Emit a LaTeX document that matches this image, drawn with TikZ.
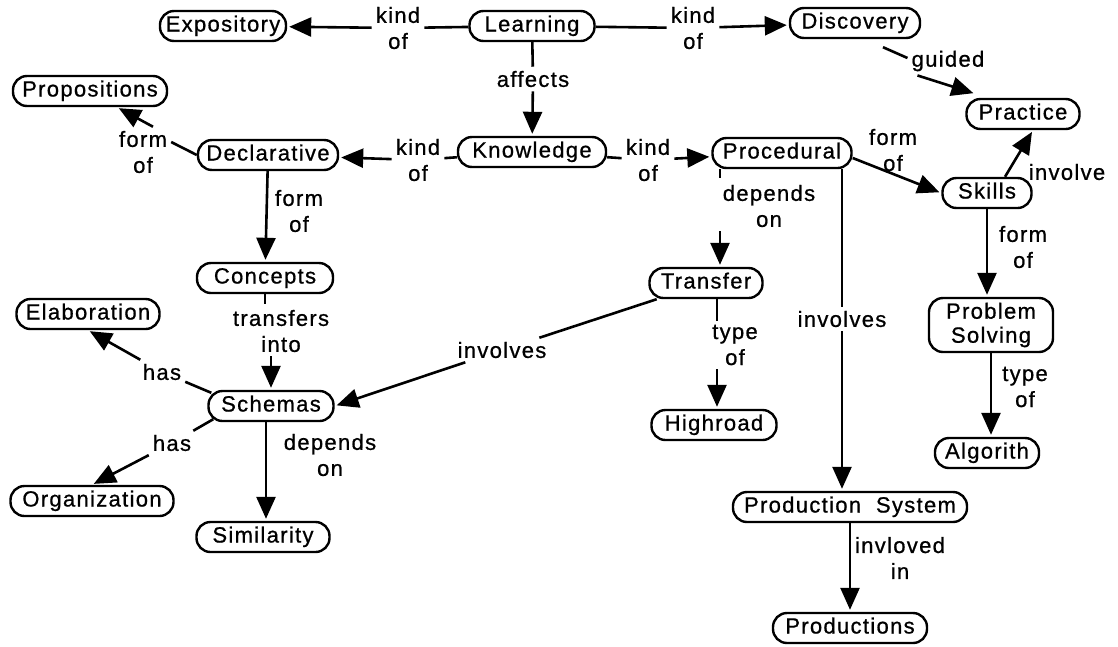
\documentclass[tikz,border=0pt]{standalone}
\usepackage{fontspec}
\setmainfont{Liberation Sans}[LetterSpace=6,FakeBold=0.8]
\usetikzlibrary{arrows.meta}
\begin{document}
\begin{tikzpicture}[x=1pt,y=-1pt,
  every node/.style={font=\fontsize{22}{26}\selectfont},
  box/.style={draw, line width=2.4pt, rounded corners=14pt, inner xsep=3pt, inner ysep=4.5pt, minimum height=30pt},
  concept/.style={box, text height=16pt, text depth=5pt},
  link/.style={align=center, inner sep=4pt},
  conn/.style={line width=2.6pt},
  arr/.style={conn, shorten >=2pt, -{Triangle[length=22pt,width=19pt]}}]

% canvas
\fill[white] (0,0) rectangle (1118,646);
\useasboundingbox (0,0) rectangle (1118,646);

% concepts
\node[concept, minimum width=126pt] (exp)    at (223,26)  {Expository};
\node[concept, minimum width=125pt] (learn)  at (532,26)  {Learning};
\node[concept, minimum width=130pt] (disc)   at (855,23)  {Discovery};
\node[concept, minimum width=154pt] (prop)   at (90,91)   {Propositions};
\node[concept, minimum width=113pt] (prac)   at (1023,114){Practice};
\node[concept, minimum width=140pt] (decl)   at (268,155) {Declarative};
\node[concept, minimum width=148pt] (know)   at (532,152) {Knowledge};
\node[concept, minimum width=139pt] (proc)   at (782,153) {Procedural};
\node[concept, minimum width=89pt]  (skills) at (987,193) {Skills};
\node[concept, minimum width=136pt] (conc)   at (265,278) {Concepts};
\node[concept, minimum width=113pt] (trans)  at (706,283) {Transfer};
\node[concept, minimum width=143pt] (elab)   at (88,314)  {Elaboration};
\node[box, align=center, minimum width=124pt, minimum height=54pt, inner ysep=2pt] (ps) at (991,325) {Problem\\[-2pt]Solving};
\node[concept, minimum width=125pt] (schem)  at (271,406) {Schemas};
\node[concept, minimum width=125pt] (high)   at (714,425) {Highroad};
\node[concept, minimum width=104pt] (alg)    at (987,453) {Algorith};
\node[concept, minimum width=163pt] (org)    at (92,501)  {Organization};
\node[concept, minimum width=133pt] (sim)    at (263,537) {Similarity};
\node[concept, minimum width=234pt] (prods)  at (850,507) {Production\ \ System};
\node[concept, minimum width=154pt] (prodn)  at (850,628) {Productions};

% link phrases
\node[link] (l1)  at (398,28)  {kind\\of};
\node[link] (l2)  at (693,28)  {kind\\of};
\node[link] (l3)  at (533,79)  {affects};
\node[link] (l4)  at (948,61)  {guided};
\node[link] (l5)  at (143,152) {form\\of};
\node[link] (l6)  at (418,160) {kind\\of};
\node[link] (l7)  at (648,160) {kind\\of};
\node[link] (l8)  at (893,150) {form\\of};
\node[link] (l9)  at (1067,172){involve};
\node[link] (l10) at (299,211) {form\\of};
\node[link] (l11) at (769,206) {depends\\on};
\node[link] (l12) at (1023,247){form\\of};
\node[link] (l13) at (281,331) {transfers\\into};
\node[link] (l14) at (502,350) {involves};
\node[link] (l15) at (735,345) {type\\of};
\node[link] (l16) at (842,319) {involves};
\node[link] (l17) at (162,372) {has};
\node[link] (l18) at (172,443) {has};
\node[link] (l19) at (330,455) {depends\\on};
\node[link] (l20) at (1025,387){type\\of};
\node[link] (l21) at (900,558) {invloved\\in};

% rails for vertical connectors running beside their phrases
\coordinate (r11) at ([xshift=14pt]trans.north);
\coordinate (r15) at ([xshift=3pt]high.north);
\coordinate (r19) at ([xshift=3pt]sim.north);

% Learning
\draw[conn] (learn) -- (l1);
\draw[arr]  (l1) -- (exp);
\draw[conn] (learn) -- (l2);
\draw[arr]  (l2) -- (disc);
\draw[conn] (learn) -- (l3);
\draw[arr]  (l3) -- (know);

% Discovery -> Practice
\draw[conn] ([xshift=28pt,yshift=-8pt]disc.south) -- ([yshift=3pt]l4.west);
\draw[arr]  ([xshift=10pt]l4.south west) -- ([xshift=10pt,yshift=4pt]prac.north west);

% Knowledge
\draw[conn] (know) -- (l6);
\draw[arr]  (l6) -- (decl);
\draw[conn] (know) -- (l7);
\draw[arr]  (l7) -- (proc);

% Declarative
\draw[conn] (decl.west) -- ([yshift=10pt]l5.east);
\draw[arr]  ([xshift=10pt]l5.north) -- ([xshift=27pt]prop.south);
\draw[arr]  (decl) -- (conc);

% Procedural
\draw[arr]  ([yshift=-5pt]proc.east) -- (skills.west);
\draw[conn] (r11 |- proc.south) -- ++(0,9);
\draw[arr]  (r11 |- l11.south) -- (r11);
\draw[conn] (l16.north |- proc.south) -- (l16.north);
\draw[arr]  (l16.south) -- (l16.south |- prods.north);

% Skills
\draw[arr]  ([xshift=18pt]skills.north) -- ([xshift=10pt]prac.south);
\draw[arr]  (skills.south) -- (skills.south |- ps.north);
\draw[arr]  (ps.south) -- (ps.south |- alg.north);

% Concepts, Transfer, Schemas
\draw[conn] (conc.south) -- ++(0,10);
\draw[arr]  (schem.north |- l13.south) -- (schem.north);
\draw[conn] (trans) -- (l14);
\draw[arr]  (l14) -- (schem.east);
\draw[conn] (r15 |- trans.south) -- (r15 |- l15.north);
\draw[arr]  (r15 |- l15.south) -- (r15);
\draw[conn] ([xshift=4pt,yshift=-3pt]schem.north west) -- (l17);
\draw[arr]  (l17) -- (elab.south);
\draw[conn] ([xshift=6pt,yshift=3pt]schem.south west) -- (l18);
\draw[arr]  (l18) -- (org.north);
\draw[arr]  (r19 |- schem.south) -- (r19);

% Production System
\draw[arr]  (prods) -- (prodn);
\end{tikzpicture}
\end{document}
